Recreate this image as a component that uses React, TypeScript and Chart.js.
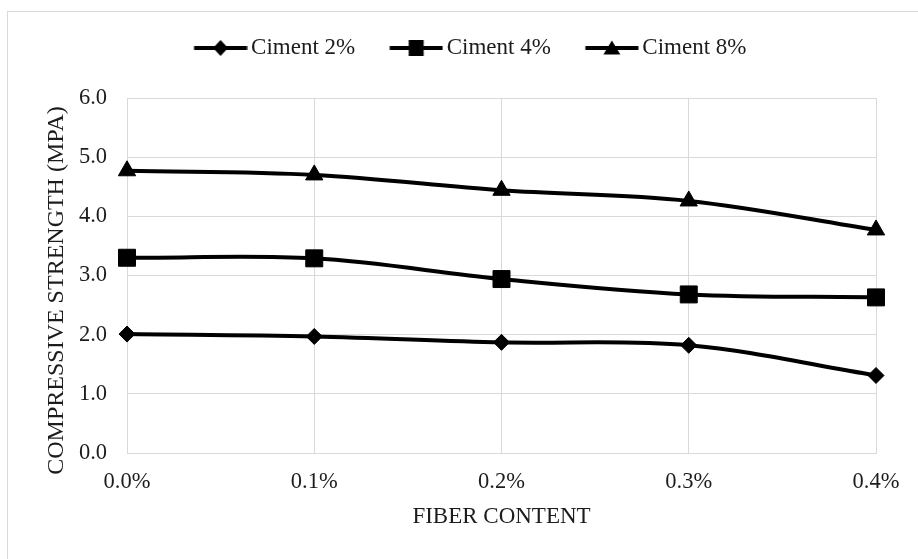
import { useEffect, useRef } from 'react';
import { Chart, registerables } from 'chart.js';

Chart.register(...registerables);

// Fibre dosage along the x axis
const fiberContent = ['0.0%', '0.1%', '0.2%', '0.3%', '0.4%'];

// Compressive strength (MPa) for each cement dosage
const ciment2 = [2.01, 1.97, 1.87, 1.82, 1.31];
const ciment4 = [3.3, 3.29, 2.94, 2.68, 2.63];
const ciment8 = [4.77, 4.7, 4.44, 4.26, 3.77];

const seriesNames = ['Ciment 2%', 'Ciment 4%', 'Ciment 8%'];

const yMin = 0;
const yMax = 6;
const yStep = 1;

const SERIF = "'Liberation Serif', 'Times New Roman', serif";
const INK = '#1c1c1c';
const GRID = '#d9d9d9';

type Shape = 'diamond' | 'square' | 'triangle';

// Small "line + marker" swatch used as the legend symbol
function legendIcon(shape: Shape): HTMLCanvasElement {
  const c = document.createElement('canvas');
  c.width = 86;
  c.height = 20;
  const g = c.getContext('2d')!;
  g.strokeStyle = '#000';
  g.fillStyle = '#000';
  g.lineWidth = 4;
  g.beginPath();
  g.moveTo(32.5, 10);
  g.lineTo(85.5, 10);
  g.stroke();
  const cx = 59;
  const cy = 10;
  g.beginPath();
  if (shape === 'diamond') {
    g.moveTo(cx, cy - 8);
    g.lineTo(cx + 7.5, cy);
    g.lineTo(cx, cy + 8);
    g.lineTo(cx - 7.5, cy);
  } else if (shape === 'square') {
    g.rect(cx - 7.5, cy - 8, 15, 16);
  } else {
    g.moveTo(cx, cy - 7.5);
    g.lineTo(cx + 8.5, cy + 6.5);
    g.lineTo(cx - 8.5, cy + 6.5);
  }
  g.closePath();
  g.fill();
  return c;
}

// Light frame around the whole chart (left and top edges fall inside the canvas)
const chartFrame = {
  id: 'chartFrame',
  beforeDraw(chart: Chart) {
    const { ctx } = chart;
    ctx.save();
    ctx.strokeStyle = GRID;
    ctx.lineWidth = 1;
    ctx.strokeRect(7.5, 11.5, chart.width + 100, chart.height + 100);
    ctx.restore();
  },
};

export default function App() {
  const canvasRef = useRef<HTMLCanvasElement | null>(null);

  useEffect(() => {
    const canvas = canvasRef.current;
    if (!canvas) return;

    const icons = [legendIcon('diamond'), legendIcon('square'), legendIcon('triangle')];
    const markerStyles = ['rectRot', 'rect', 'triangle'];
    const markerRadii = [8, 12, 10];
    const values = [ciment2, ciment4, ciment8];

    const datasets = values.map((data, i) => ({
      label: seriesNames[i],
      data,
      borderColor: '#000',
      backgroundColor: '#000',
      borderWidth: 4,
      tension: 0.35,
      fill: false,
      pointStyle: markerStyles[i] as any,
      pointRadius: markerRadii[i],
      pointHoverRadius: markerRadii[i],
      pointBorderWidth: 1,
      pointBackgroundColor: '#000',
      pointBorderColor: '#000',
    }));

    const tickFont = { family: SERIF, size: 22.5, weight: 'normal' as const };
    const titleFont = { family: SERIF, size: 23, weight: 'normal' as const };

    const chart = new Chart(canvas, {
      type: 'line',
      data: { labels: fiberContent, datasets },
      plugins: [chartFrame],
      options: {
        animation: false,
        responsive: false,
        layout: { padding: { left: 40, right: 42, top: 26.5, bottom: 0 } },
        plugins: {
          tooltip: { enabled: false },
          legend: {
            position: 'top',
            labels: {
              usePointStyle: true,
              pointStyleWidth: 70,
              padding: 10,
              color: INK,
              font: titleFont,
              generateLabels: (c: Chart) =>
                Chart.defaults.plugins.legend.labels
                  .generateLabels(c)
                  .map((item: any, i: number) => ({ ...item, pointStyle: icons[i] })),
            },
          },
        },
        scales: {
          x: {
            type: 'category',
            grid: { color: GRID, lineWidth: 1, drawTicks: false },
            border: { color: GRID, width: 1 },
            ticks: {
              color: INK,
              font: tickFont,
              padding: 16,
              maxRotation: 0,
              autoSkip: false,
            },
            title: {
              display: true,
              text: 'FIBER CONTENT',
              color: INK,
              font: titleFont,
              padding: { top: 0, bottom: 28 },
            },
            afterFit: (s: any) => {
              s.height = 106;
            },
          },
          xTop: {
            type: 'category',
            position: 'top',
            display: true,
            grid: { display: false },
            border: { display: false },
            ticks: { display: false },
            afterFit: (s: any) => {
              s.height = 28.5;
            },
          },
          y: {
            min: yMin,
            max: yMax,
            grid: { color: GRID, lineWidth: 1, drawTicks: false },
            border: { color: GRID, width: 1 },
            ticks: {
              stepSize: yStep,
              color: INK,
              font: tickFont,
              padding: 20,
              callback: (v: any) => Number(v).toFixed(1),
            },
            title: {
              display: true,
              // trailing spaces nudge the rotated title slightly downward
              text: 'COMPRESSIVE STRENGTH (MPA)     ',
              color: INK,
              font: { family: SERIF, size: 24, weight: 'normal' as const },
              padding: { top: 2, bottom: 0 },
            },
            afterFit: (s: any) => {
              s.width = 87;
            },
          },
        },
      } as any,
    });

    return () => chart.destroy();
  }, []);

  return (
    <div style={{ position: 'absolute', left: 0, top: 0, width: 918, height: 559, background: '#fff' }}>
      <canvas ref={canvasRef} width={918} height={559} style={{ display: 'block' }} />
    </div>
  );
}
